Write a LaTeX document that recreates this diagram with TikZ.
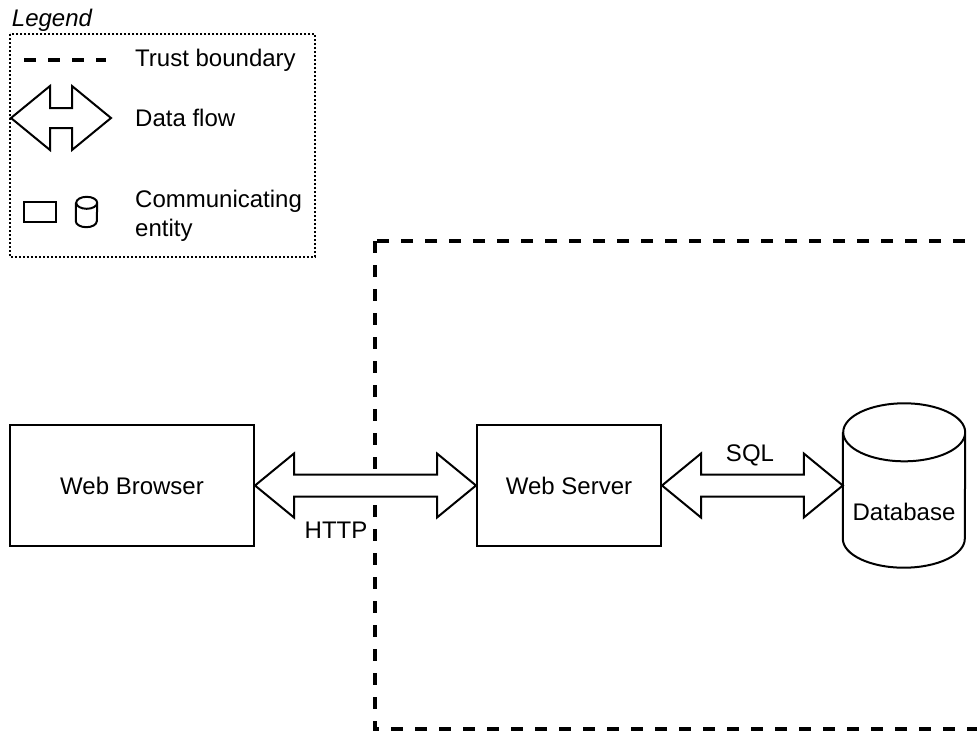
\documentclass[tikz,border=0pt]{standalone}
\usepackage{fontspec}
\setmainfont{Liberation Sans}
\usetikzlibrary{calc}

\tikzset{
  txt/.style={inner sep=0pt, font=\fontsize{24}{29}\selectfont},
  entity/.style={draw, line width=2pt, inner sep=0pt, font=\fontsize{24}{29}\selectfont},
  ghost/.style={inner sep=0pt, minimum width=#1pt},
  flow/.style={draw, line width=2pt, line join=miter, fill=white},
  trust/.style={line width=4pt, dash pattern=on 12pt off 12pt},
  legendframe/.style={line width=2pt, dash pattern=on 2pt off 2pt},
}

% double-headed data-flow arrow between two tips (head 39 long, 32 half-high, shaft 11 half-high)
\newcommand\flowarrow[3]{%
  \draw[flow] (#1) -- ++(39,-32) -- ++(0,32-#3) -- ($(#2)+(-39,-#3)$) -- ++(0,#3-32)
    -- (#2) -- ++(-39,32) -- ++(0,#3-32) -- ($(#1)+(39,#3)$) -- ++(0,32-#3) -- cycle;}

% cylinder drawn over the frame of a node; #2 is the cap's vertical radius
\newcommand\cylinderat[3]{%
  \draw[line width=2pt, fill=white] ($(#1.north west)+(0,#2)$) -- ($(#1.south west)+(0,-#2)$)
    arc[start angle=180, end angle=360, x radius=#3pt, y radius=#2pt]
    -- ($(#1.north east)+(0,#2)$)
    arc[start angle=0, end angle=180, x radius=#3pt, y radius=#2pt]
    arc[start angle=180, end angle=360, x radius=#3pt, y radius=#2pt];}

\begin{document}
\begin{tikzpicture}[x=1pt, y=-1pt]
  \useasboundingbox (0,0) rectangle (977,731);
  \clip (0,0) rectangle (977,731);

  % trust boundary around the server side
  \draw[trust] (375,241) rectangle (1010,729);

  % legend
  \node[txt, font=\fontsize{24}{29}\selectfont\itshape] (legendtitle) at (52,20) {Legend};
  \draw[legendframe] (10,34) rectangle (315,257);

  \coordinate (tbA) at (24,60);
  \coordinate (tbB) at (106,60);
  \draw[trust] (tbA) -- (tbB);
  \node[txt, anchor=west] (tbtext) at (135,60) {Trust boundary};

  \coordinate (dfA) at (11,118);
  \coordinate (dfB) at (111,118);
  \flowarrow{dfA}{dfB}{10}
  \node[txt, anchor=west] (dftext) at (135,118) {Data flow};

  \node[entity, minimum width=32pt, minimum height=20pt] (legrect) at (40,212) {};
  \node[ghost=21, minimum height=30pt] (legcyl) at (86.5,212) {};
  \cylinderat{legcyl}{6}{10.5}
  \node[txt, anchor=west, align=left] (cetext) at (135,215.5) {Communicating\\entity};

  % communicating entities
  \node[entity, minimum width=244pt, minimum height=121pt] (browser) at (132,485.5) {Web Browser};
  \node[entity, minimum width=184pt, minimum height=121pt] (server) at (569,485.5) {Web Server};
  \node[ghost=122, minimum height=164pt] (db) at (904,485.5) {};
  \cylinderat{db}{29}{61}
  \node[txt] (dblabel) at (904,512) {Database};

  % data flows
  \flowarrow{browser.east}{server.west}{11}
  \node[txt] (http) at (336,530) {HTTP};
  \flowarrow{server.east}{db.west}{11}
  \node[txt] (sql) at (750,455) {SQL};
\end{tikzpicture}
\end{document}
